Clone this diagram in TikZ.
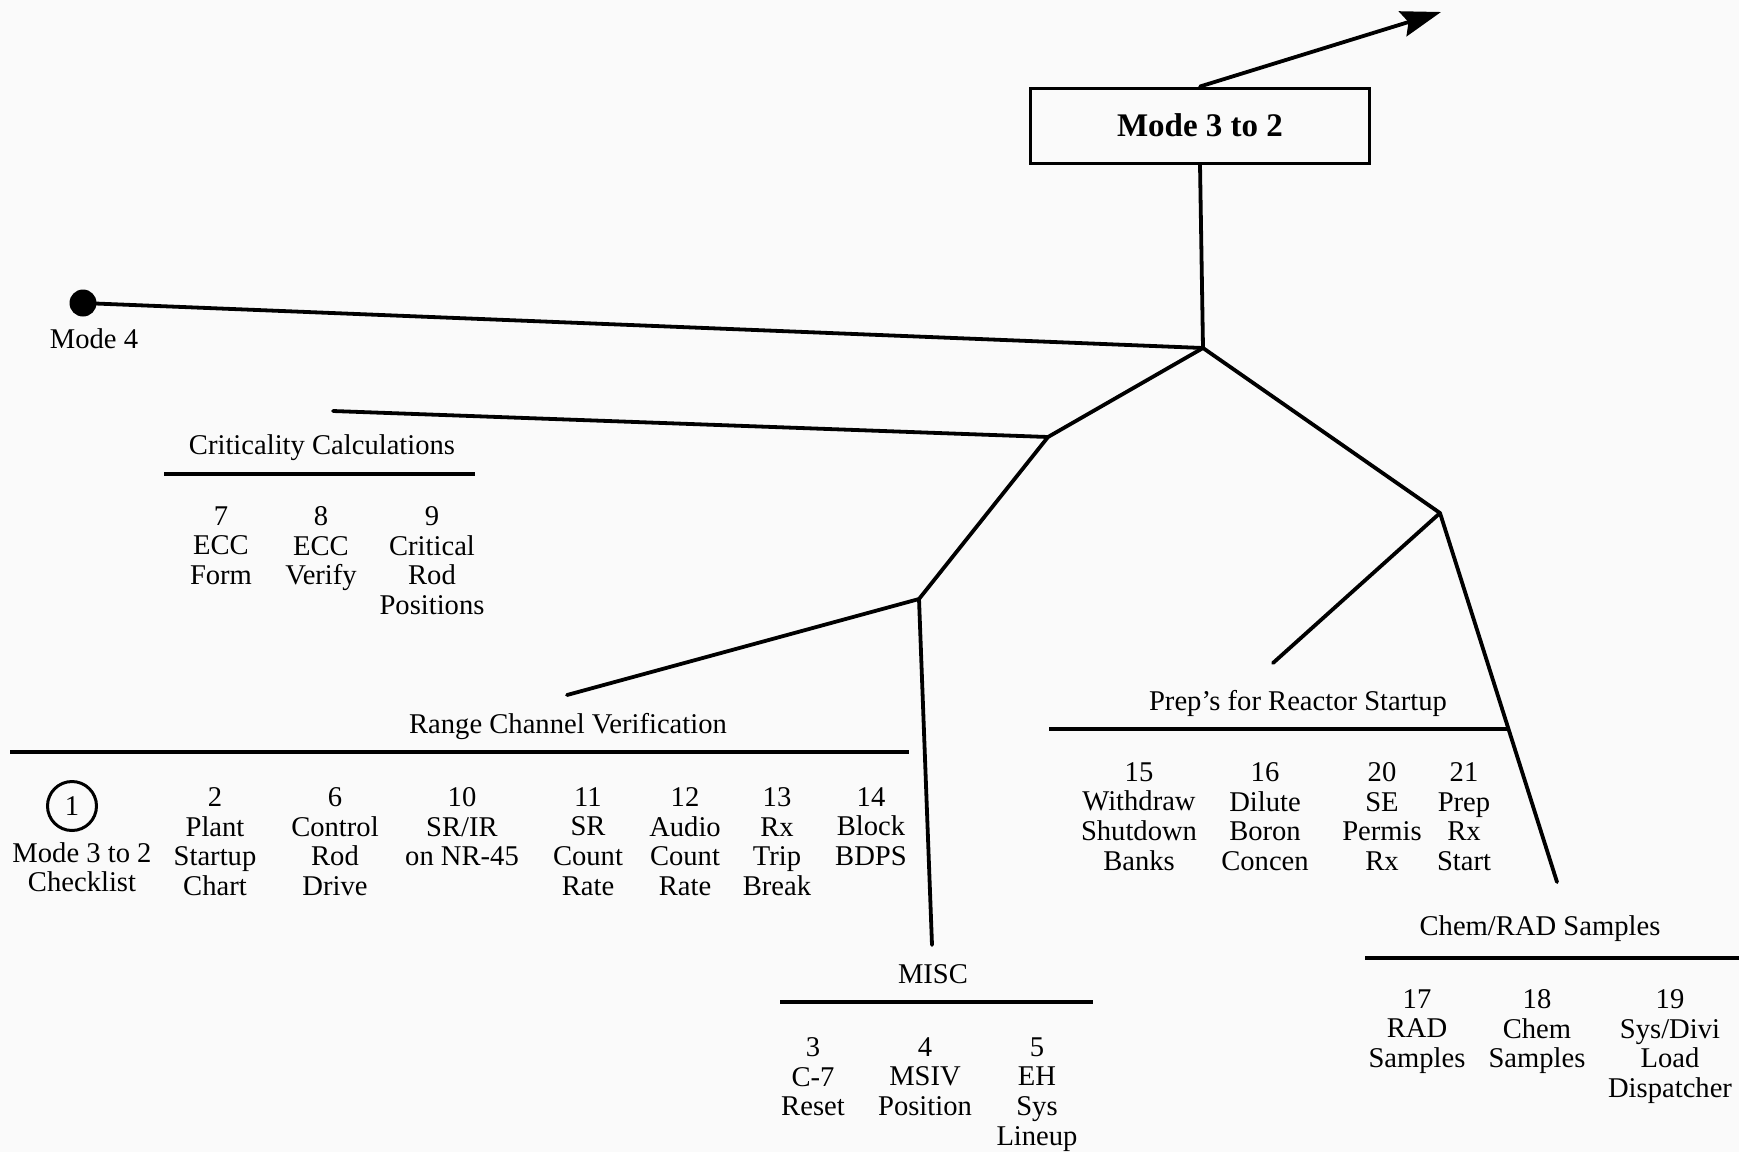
\documentclass[tikz,border=0pt]{standalone}
\usepackage{fontspec}
\setmainfont{Liberation Serif}
\usetikzlibrary{arrows.meta}
\definecolor{paper}{RGB}{250,250,250}
\begin{document}
\begin{tikzpicture}[x=0.5pt,y=-0.5pt,
  wire/.style={line width=1.9pt, line cap=round},
  rulestyle/.style={line width=1.7pt},
  txt/.style={font=\fontsize{14.3}{14.85}\selectfont, inner sep=0pt},
  title/.style={txt, anchor=base},
  item/.style={txt, anchor=north, align=center, yshift=1.5pt},
]
\fill[paper] (0,0) rectangle (1739,1152);
\useasboundingbox (0,0) rectangle (1739,1152);

% top box and outgoing arrow
\node[draw, line width=1.5pt, minimum width=169.5pt, minimum height=37.5pt, inner sep=0pt,
      font=\bfseries\fontsize{16.5}{18}\selectfont] (mode32) at (1200,125.5) {Mode 3 to 2};
\coordinate (out) at (1441,12);
\draw[wire, -{Stealth[length=20pt,width=13pt,inset=3pt]}] (mode32.north) -- (out);

% junctions and free ends of the tree
\coordinate (j0) at (1203,348);
\coordinate (jc) at (1048,437);
\coordinate (jr) at (919,599);
\coordinate (jp) at (1440,513);
\coordinate (cend) at (333,411);
\coordinate (rend) at (567,695);
\coordinate (mend) at (932,945);
\coordinate (pend) at (1273,663);
\coordinate (chend) at (1557,882);

% Mode 4 start point
\node[circle, fill=black, inner sep=0pt, minimum size=13.5pt] (m4) at (83,303) {};
\node[title] (m4lbl) at (94,348) {Mode 4};

% tree
\draw[wire] (mode32.south) -- (j0);
\draw[wire] (m4.center) -- (j0);
\draw[wire] (j0) -- (jc) -- (jr);
\draw[wire] (j0) -- (jp);
\draw[wire] (cend) -- (jc);
\draw[wire] (jr) -- (rend);
\draw[wire] (jr) -- (mend);
\draw[wire] (jp) -- (pend);
\draw[wire] (jp) -- (chend);

% group titles with their rules
\node[title] (critT) at (322,454) {Criticality Calculations};
\draw[rulestyle] (164,474) -- (475,474);
\node[title] (rangeT) at (568,733) {Range Channel Verification};
\draw[rulestyle] (10,752) -- (909,752);
\node[title] (miscT) at (933,983) {MISC};
\draw[rulestyle] (780,1002) -- (1093,1002);
\node[title] (prepT) at (1298,710) {Prep's for Reactor Startup};
\draw[rulestyle] (1049,729) -- (1509,729);
\node[title] (chemT) at (1540,935) {Chem/RAD Samples};
\draw[rulestyle] (1365,958) -- (1739,958);

% criticality calculations
\node[item] (i7) at (221,509) {7\\ECC\\Form};
\node[item] (i8) at (321,509) {8\\ECC\\Verify};
\node[item] (i9) at (432,509) {9\\Critical\\Rod\\Positions};

% range channel verification
\node[txt, circle, draw, line width=1.5pt, minimum size=24.5pt] (i1) at (72,806) {1};
\node[item] (i1t) at (82,845) {Mode 3 to 2\\Checklist};
\node[item] (i2) at (215,790) {2\\Plant\\Startup\\Chart};
\node[item] (i6) at (335,790) {6\\Control\\Rod\\Drive};
\node[item] (i10) at (462,790) {10\\SR/IR\\on NR-45};
\node[item] (i11) at (588,790) {11\\SR\\Count\\Rate};
\node[item] (i12) at (685,790) {12\\Audio\\Count\\Rate};
\node[item] (i13) at (777,790) {13\\Rx\\Trip\\Break};
\node[item] (i14) at (871,790) {14\\Block\\BDPS};

% misc
\node[item] (i3) at (813,1040) {3\\C-7\\Reset};
\node[item] (i4) at (925,1040) {4\\MSIV\\Position};
\node[item] (i5) at (1037,1040) {5\\EH\\Sys\\Lineup};

% preparations for reactor startup
\node[item] (i15) at (1139,765) {15\\Withdraw\\Shutdown\\Banks};
\node[item] (i16) at (1265,765) {16\\Dilute\\Boron\\Concen};
\node[item] (i20) at (1382,765) {20\\SE\\Permis\\Rx};
\node[item] (i21) at (1464,765) {21\\Prep\\Rx\\Start};

% chemistry / radiation samples
\node[item] (i17) at (1417,992) {17\\RAD\\Samples};
\node[item] (i18) at (1537,992) {18\\Chem\\Samples};
\node[item] (i19) at (1670,992) {19\\Sys/Divi\\Load\\Dispatcher};
\end{tikzpicture}
\end{document}
